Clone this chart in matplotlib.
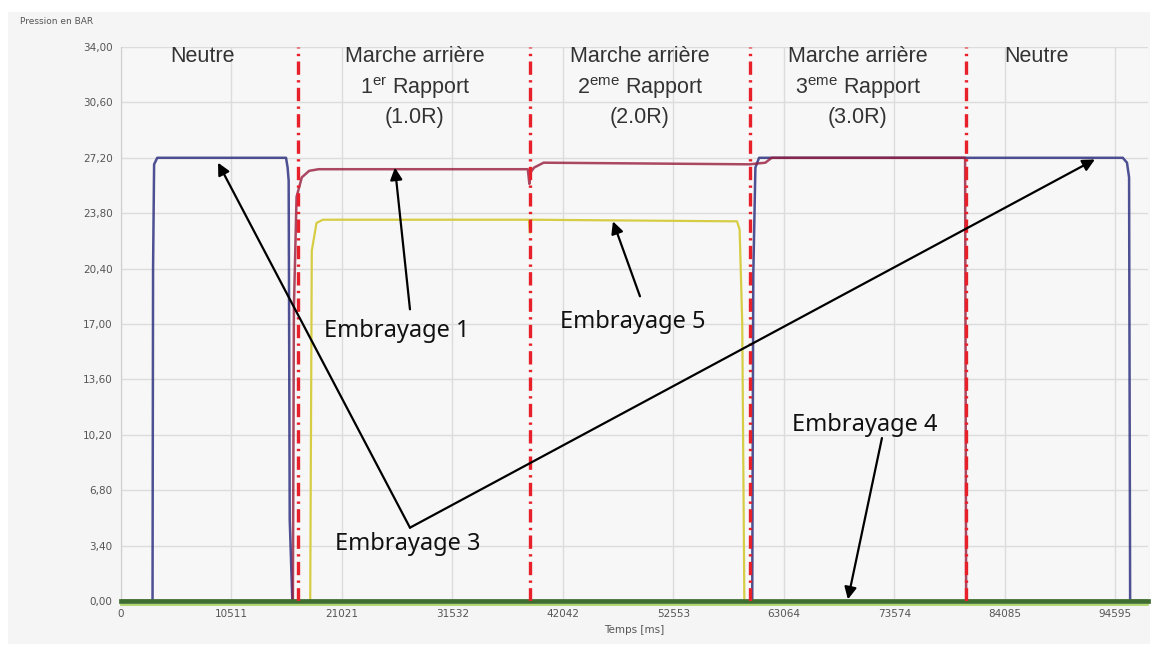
import matplotlib.pyplot as plt
from matplotlib.patches import Rectangle

t_emb3 = [0, 3000, 3050, 3150, 3450, 15700, 15850, 15950, 16050, 16300,
          60050, 60150, 60350, 60700, 95300, 95700, 95900, 96000, 97700]
p_emb3 = [0, 0, 20.4, 26.8, 27.2, 27.2, 26.6, 25.8, 5.0, 0,
          0, 20.0, 26.6, 27.2, 27.2, 26.9, 26.0, 0, 0]

t_emb1 = [0, 16350, 16450, 16700, 17200, 17900, 18800, 38700, 38850, 38950,
          39300, 40200, 59800, 61300, 61900, 80300, 80400, 97700]
p_emb1 = [0, 0, 18.0, 24.8, 26.0, 26.4, 26.5, 26.5, 25.6, 26.3,
          26.6, 26.9, 26.8, 26.9, 27.2, 27.2, 0, 0]

t_emb5 = [0, 18000, 18150, 18600, 19200, 38800, 38900, 39000, 58600, 58850,
          59100, 59300, 97700]
p_emb5 = [0, 0, 21.5, 23.2, 23.4, 23.4, 22.6, 23.4, 23.3, 22.8,
          17.0, 0, 0]

t_emb4 = [0, 97700]
p_emb4 = [0.0, 0.0]

# Changements de rapport (lignes rouges)
t_changements = [16850, 38900, 59830, 80380]

x_ticks = [0, 10511, 21021, 31532, 42042, 52553, 63064, 73574, 84085, 94595]
y_ticks = [0, 3.4, 6.8, 10.2, 13.6, 17.0, 20.4, 23.8, 27.2, 30.6, 34.0]

plt.rcParams['mathtext.fontset'] = 'custom'
plt.rcParams['mathtext.rm'] = 'Liberation Sans'

fig = plt.figure(figsize=(11.54, 6.46), dpi=100)
fig.patch.set_facecolor('white')
fig.patches.append(Rectangle((8 / 1154, 2 / 646), 1142 / 1154, 632 / 646,
                             transform=fig.transFigure, facecolor='#f5f5f5',
                             edgecolor='none', zorder=-10))
ax = fig.add_axes([121 / 1154, 1 - 601 / 646, 1027 / 1154, 554 / 646])
ax.set_facecolor('#f7f7f7')

ax.set_xlim(0, 97700)
ax.set_ylim(0, 34)
ax.set_xticks(x_ticks)
ax.set_xticklabels([str(v) for v in x_ticks])
ax.set_yticks(y_ticks)
ax.set_yticklabels([f"{v:.2f}".replace('.', ',') for v in y_ticks])
ax.tick_params(length=0, labelsize=7.5, colors='#555555', pad=6)
ax.grid(True, color='#dcdcdc', lw=1)
for s in ['top', 'right', 'bottom']:
    ax.spines[s].set_visible(False)
ax.spines['left'].set_color('#cfcfcf')

ax.set_xlabel('Temps [ms]', fontsize=7.5, color='#555555', labelpad=4)
fig.text(20 / 1154, 1 - 22 / 646, 'Pression en BAR', fontsize=6.5,
         color='#555555', va='center')

# courbes
ax.plot(t_emb5, p_emb5, color='#d6cd45', lw=1.6, zorder=4)
ax.plot(t_emb3, p_emb3, color='#2f3380', lw=1.8, alpha=0.85, zorder=5)
ax.plot(t_emb1, p_emb1, color='#971c3c', lw=1.8, alpha=0.8, zorder=6)
ax.plot([0, 97700], [-0.22, -0.22], color='#a6d35a', lw=1.2, zorder=6.4, clip_on=False)
ax.plot(t_emb4, p_emb4, color='#3f6f30', lw=3.4, zorder=6.5, clip_on=False)

for t in t_changements:
    ax.axvline(t, color='#e8202a', lw=2.4, ls=(0, (4, 1.6, 0.7, 1.6)), zorder=7)

# libellés des phases
kw = dict(fontsize=15.5, color='#333333', ha='center', va='center',
          family='Liberation Sans', zorder=8)
ax.text(7800, 33.4, 'Neutre', **kw)
ax.text(27965, 33.4, 'Marche arrière', **kw)
ax.text(27965, 31.5, r'1$^{\rm er}$ Rapport', **kw)
ax.text(27965, 29.65, '(1.0R)', **kw)
ax.text(49370, 33.4, 'Marche arrière', **kw)
ax.text(49370, 31.5, r'2$^{\rm eme}$ Rapport', **kw)
ax.text(49370, 29.65, '(2.0R)', **kw)
ax.text(70100, 33.4, 'Marche arrière', **kw)
ax.text(70100, 31.5, r'3$^{\rm eme}$ Rapport', **kw)
ax.text(70100, 29.65, '(3.0R)', **kw)
ax.text(87130, 33.4, 'Neutre', **kw)

# flèches et noms des embrayages
akw = dict(fontsize=17, family='Noto Sans', color='#111111', ha='center', va='center', zorder=9)
arr = dict(arrowstyle='-|>', color='black', lw=1.6, mutation_scale=18, shrinkA=0, shrinkB=0)
ax.annotate('', xy=(26060, 26.6), xytext=(27490, 17.9), arrowprops=arr, zorder=9)
ax.text(26250, 16.6, 'Embrayage 1', **akw)
ax.annotate('', xy=(46800, 23.3), xytext=(49370, 18.7), arrowprops=arr, zorder=9)
ax.text(48700, 17.1, 'Embrayage 5', **akw)
ax.annotate('', xy=(69150, 0.1), xytext=(72390, 10.0), arrowprops=arr, zorder=9)
ax.text(70770, 10.8, 'Embrayage 4', **akw)
ax.annotate('', xy=(9227, 26.9), xytext=(27490, 4.5), arrowprops=arr, zorder=9)
ax.annotate('', xy=(92650, 27.1), xytext=(27490, 4.5), arrowprops=arr, zorder=9)
ax.text(27300, 3.5, 'Embrayage 3', **akw)

fig.savefig('out.png', dpi=100, facecolor=fig.get_facecolor())
